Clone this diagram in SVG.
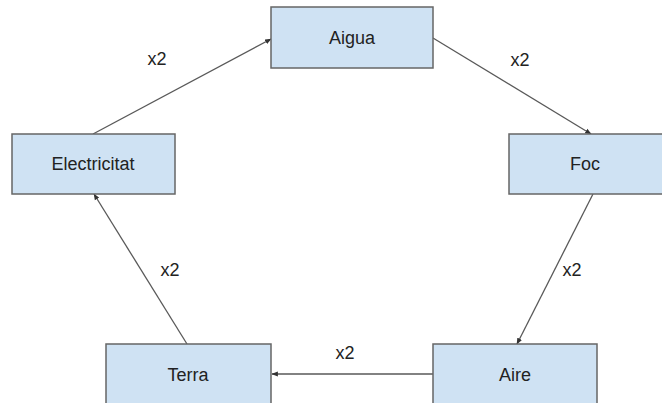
<svg xmlns="http://www.w3.org/2000/svg" width="662" height="403" viewBox="0 0 662 403">
<defs>
<style>
.box{fill:#cfe2f3;stroke:#666;stroke-width:1.5}
.t{font-family:"Liberation Sans",Arial,sans-serif;font-size:18px;fill:#222;text-anchor:middle;dominant-baseline:central}
.c{stroke:#595959;stroke-width:1.3;fill:none;marker-end:url(#ah)}
</style>
<marker id="ah" viewBox="0 0 10 10" refX="9" refY="5" markerWidth="5" markerHeight="5" orient="auto" markerUnits="strokeWidth">
<path d="M0,1 L10,5 L0,9 z" fill="#333"/>
</marker>
</defs>
<rect width="662" height="403" fill="#fff"/>
<g id="connectors">
<line class="c" x1="433" y1="38" x2="591" y2="134"/>
<line class="c" x1="593" y1="194" x2="517" y2="344"/>
<line class="c" x1="433" y1="374" x2="272" y2="374"/>
<line class="c" x1="187" y1="344" x2="94" y2="194"/>
<line class="c" x1="93" y1="134" x2="271" y2="39"/>
<text class="t" x="157" y="59">x2</text>
<text class="t" x="520" y="60">x2</text>
<text class="t" x="572" y="270">x2</text>
<text class="t" x="345" y="353">x2</text>
<text class="t" x="170" y="270">x2</text>
</g>
<g id="aigua"><rect class="box" x="271" y="7" width="162" height="61"/><text class="t" x="352" y="38">Aigua</text></g>
<g id="foc"><rect class="box" x="509" y="134" width="163" height="60"/><text class="t" x="585" y="164">Foc</text></g>
<g id="electricitat"><rect class="box" x="12" y="134" width="163" height="60"/><text class="t" x="93" y="164">Electricitat</text></g>
<g id="terra"><rect class="box" x="106" y="344" width="165" height="70"/><text class="t" x="188" y="375">Terra</text></g>
<g id="aire"><rect class="box" x="433" y="344" width="164" height="70"/><text class="t" x="515" y="375">Aire</text></g>
</svg>
